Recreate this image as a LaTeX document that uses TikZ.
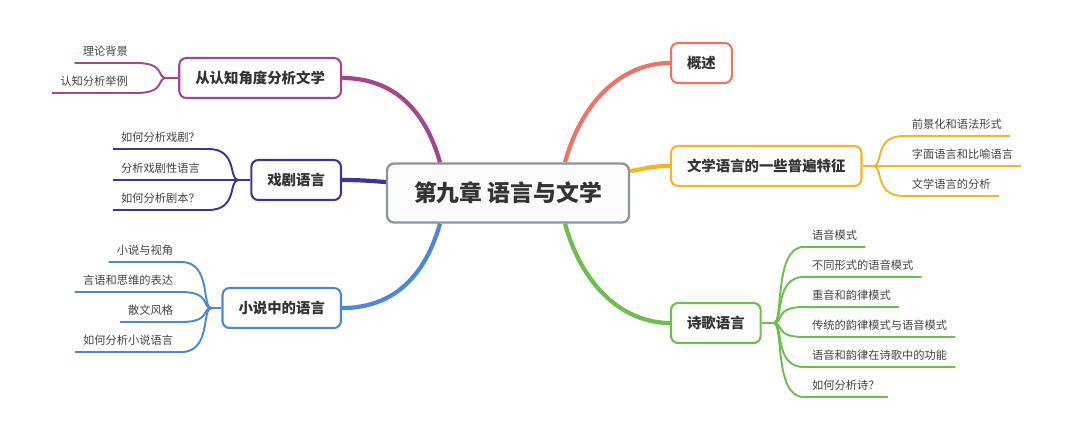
\documentclass[tikz,border=0pt]{standalone}
\usepackage{fontspec}
\setmainfont{Noto Sans CJK SC}
\usepackage{tikz}
\usetikzlibrary{positioning,calc}
\definecolor{inkgray}{HTML}{333333}
\definecolor{leafgray}{HTML}{444444}
\definecolor{rootgray}{HTML}{8E949C}
\definecolor{brred}{HTML}{EB7466}
\definecolor{bryellow}{HTML}{F1B52C}
\definecolor{brgreen}{HTML}{6DBE4E}
\definecolor{brpurple}{HTML}{A2478F}
\definecolor{brindigo}{HTML}{3F3590}
\definecolor{brblue}{HTML}{4E87D2}
\tikzset{
  root/.style={rectangle, rounded corners=4pt, draw=rootgray, line width=1.3pt, fill=gray!3,
               font=\fontsize{13}{15}\selectfont\bfseries, text=inkgray, inner xsep=0.54cm, minimum height=1.18cm},
  topic/.style={rectangle, rounded corners=4pt, draw=#1, line width=1.2pt, fill=white,
                font=\fontsize{8.2}{10}\selectfont\bfseries, text=inkgray, inner xsep=0.32cm, minimum height=0.8cm},
  leaf/.style={font=\fontsize{6.4}{8}\selectfont, text=leafgray, inner xsep=0.16cm, inner ysep=0.13cm},
  branch/.style={draw=#1, line width=2.4pt},
  twig/.style={draw=#1, line width=1.1pt},
}
\begin{document}
\begin{tikzpicture}[x=0.02cm, y=-0.02cm]
  \useasboundingbox (0,0) rectangle (1080,441);
  \node[root] (c) at (508,193) {第九章 语言与文学};
  % right side
  \node[topic=brred, anchor=west] (gs) at (670,63) {概述};
  \node[topic=bryellow, anchor=west] (tz) at (670,166) {文学语言的一些普遍特征};
  \node[topic=brgreen, anchor=west] (sg) at (670,323) {诗歌语言};
  % left side
  \node[topic=brpurple, anchor=east] (rz) at (342,78) {从认知角度分析文学};
  \node[topic=brindigo, anchor=east] (xj) at (342,180) {戏剧语言};
  \node[topic=brblue, anchor=east] (xs) at (342,308) {小说中的语言};

  \draw[branch=brred] ($(c.north)+(57,0)$) .. controls ($(c.north)+(75,-65)$) and ($(gs.west)+(-45,0)$) .. (gs.west);
  \draw[branch=bryellow] ($(c.east)+(0,-22)$) .. controls ($(c.east)+(15,-24)$) and ($(tz.west)+(-20,0)$) .. (tz.west);
  \draw[branch=brgreen] ($(c.south)+(57,0)$) .. controls ($(c.south)+(75,65)$) and ($(sg.west)+(-45,0)$) .. (sg.west);
  \draw[branch=brpurple] ($(c.north)+(-68,0)$) .. controls ($(c.north)+(-85,-60)$) and ($(rz.east)+(45,0)$) .. (rz.east);
  \draw[branch=brindigo] ($(c.west)+(0,-11)$) .. controls ($(c.west)+(-15,-12)$) and ($(xj.east)+(20,0)$) .. (xj.east);
  \draw[branch=brblue] ($(c.south)+(-68,0)$) .. controls ($(c.south)+(-85,60)$) and ($(xs.east)+(45,0)$) .. (xs.east);

  % leaves of tz
  \coordinate (tzj) at ($(tz.east)+(11,0)$);
  \draw[twig=bryellow] (tz.east) -- (tzj);
  \node[leaf, anchor=south west] (tz1) at ($(tzj)+(30,-30)$) {前景化和语法形式};
  \node[leaf, anchor=south west] (tz2) at ($(tzj)+(30,0)$) {字面语言和比喻语言};
  \node[leaf, anchor=south west] (tz3) at ($(tzj)+(30,30)$) {文学语言的分析};
  \foreach \n in {tz1,tz2,tz3}
    \draw[twig=bryellow] (tzj) .. controls ($(tzj)+(10,0)$) and (tzj |- \n.south west) .. (\n.south west) -- (\n.south east);

  % leaves of sg
  \coordinate (sgj) at ($(sg.east)+(12,0)$);
  \draw[twig=brgreen] (sg.east) -- (sgj);
  \node[leaf, anchor=south west] (sg1) at ($(sgj)+(30,-76)$) {语音模式};
  \node[leaf, anchor=south west] (sg2) at ($(sgj)+(30,-46)$) {不同形式的语音模式};
  \node[leaf, anchor=south west] (sg3) at ($(sgj)+(30,-16)$) {重音和韵律模式};
  \node[leaf, anchor=south west] (sg4) at ($(sgj)+(30,14)$) {传统的韵律模式与语音模式};
  \node[leaf, anchor=south west] (sg5) at ($(sgj)+(30,44)$) {语音和韵律在诗歌中的功能};
  \node[leaf, anchor=south west] (sg6) at ($(sgj)+(30,74)$) {如何分析诗？};
  \foreach \n in {sg1,sg2,sg3,sg4,sg5,sg6}
    \draw[twig=brgreen] (sgj) .. controls ($(sgj)+(10,0)$) and (sgj |- \n.south west) .. (\n.south west) -- (\n.south east);

  % leaves of rz
  \coordinate (rzj) at ($(rz.west)+(-12,0)$);
  \draw[twig=brpurple] (rz.west) -- (rzj);
  \node[leaf, anchor=south east] (rz1) at ($(rzj)+(-30,-15)$) {理论背景};
  \node[leaf, anchor=south east] (rz2) at ($(rzj)+(-30,15)$) {认知分析举例};
  \foreach \n in {rz1,rz2}
    \draw[twig=brpurple] (rzj) .. controls ($(rzj)+(-10,0)$) and (rzj |- \n.south east) .. (\n.south east) -- (\n.south west);

  % leaves of xj
  \coordinate (xjj) at ($(xj.west)+(-12,0)$);
  \draw[twig=brindigo] (xj.west) -- (xjj);
  \node[leaf, anchor=south east] (xj1) at ($(xjj)+(-30,-31)$) {如何分析戏剧？};
  \node[leaf, anchor=south east] (xj2) at ($(xjj)+(-30,0)$) {分析戏剧性语言};
  \node[leaf, anchor=south east] (xj3) at ($(xjj)+(-30,30)$) {如何分析剧本？};
  \foreach \n in {xj1,xj2,xj3}
    \draw[twig=brindigo] (xjj) .. controls ($(xjj)+(-10,0)$) and (xjj |- \n.south east) .. (\n.south east) -- (\n.south west);

  % leaves of xs
  \coordinate (xsj) at ($(xs.west)+(-10,0)$);
  \draw[twig=brblue] (xs.west) -- (xsj);
  \node[leaf, anchor=south east] (xs1) at ($(xsj)+(-30,-46)$) {小说与视角};
  \node[leaf, anchor=south east] (xs2) at ($(xsj)+(-30,-16)$) {言语和思维的表达};
  \node[leaf, anchor=south east] (xs3) at ($(xsj)+(-30,14)$) {散文风格};
  \node[leaf, anchor=south east] (xs4) at ($(xsj)+(-30,44)$) {如何分析小说语言};
  \foreach \n in {xs1,xs2,xs3,xs4}
    \draw[twig=brblue] (xsj) .. controls ($(xsj)+(-10,0)$) and (xsj |- \n.south east) .. (\n.south east) -- (\n.south west);
\end{tikzpicture}
\end{document}
